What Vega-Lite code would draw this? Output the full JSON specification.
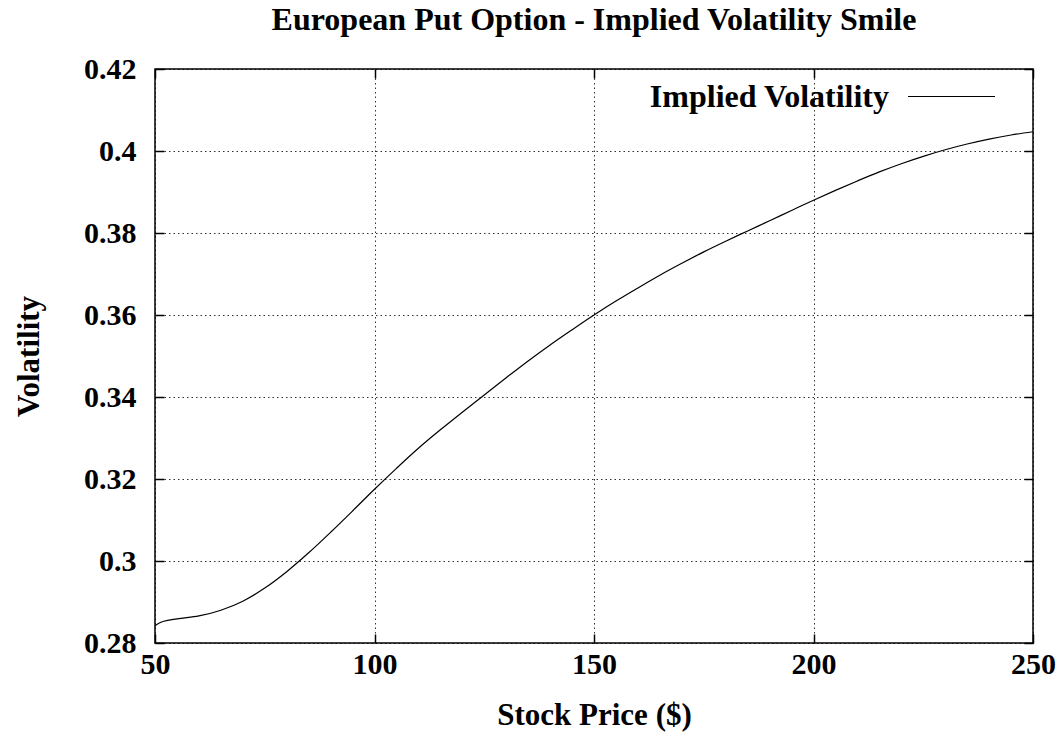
{
  "$schema": "https://vega.github.io/schema/vega-lite/v6.json",
  "autosize": "none",
  "padding": {"left": 155, "top": 69, "right": 30, "bottom": 99},
  "width": 878,
  "height": 574,
  "background": "white",
  "title": {
    "text": "European Put Option - Implied Volatility Smile",
    "font": "Liberation Serif",
    "fontWeight": "bold",
    "fontSize": 32,
    "anchor": "middle",
    "offset": 15,
    "color": "black"
  },
  "config": {
    "view": {"stroke": "black", "strokeWidth": 1.5},
    "axis": {
      "labelFont": "Liberation Serif",
      "labelFontWeight": "bold",
      "labelFontSize": 30,
      "labelColor": "black",
      "labelFlush": false,
      "labelOverlap": false,
      "titleFont": "Liberation Serif",
      "titleFontWeight": "bold",
      "titleFontSize": 31,
      "titleColor": "black",
      "domain": false,
      "tickColor": "black",
      "tickWidth": 1.5,
      "tickSize": -9,
      "gridColor": "black",
      "gridDash": [1.5, 3],
      "gridWidth": 1,
      "gridOpacity": 0.8
    },
    "legend": {
      "labelFont": "Liberation Serif",
      "labelFontWeight": "bold",
      "labelFontSize": 32,
      "labelColor": "black",
      "labelLimit": 500
    }
  },
  "data": {
    "values": [
      {"price": 50, "vol": 0.2842, "series": "Implied Volatility"},
      {"price": 51, "vol": 0.2849, "series": "Implied Volatility"},
      {"price": 52, "vol": 0.2853, "series": "Implied Volatility"},
      {"price": 55, "vol": 0.2859, "series": "Implied Volatility"},
      {"price": 60, "vol": 0.2866, "series": "Implied Volatility"},
      {"price": 65, "vol": 0.2880, "series": "Implied Volatility"},
      {"price": 70, "vol": 0.2902, "series": "Implied Volatility"},
      {"price": 75, "vol": 0.2934, "series": "Implied Volatility"},
      {"price": 80, "vol": 0.2974, "series": "Implied Volatility"},
      {"price": 85, "vol": 0.3020, "series": "Implied Volatility"},
      {"price": 90, "vol": 0.3070, "series": "Implied Volatility"},
      {"price": 95, "vol": 0.3122, "series": "Implied Volatility"},
      {"price": 100, "vol": 0.3175, "series": "Implied Volatility"},
      {"price": 105, "vol": 0.3226, "series": "Implied Volatility"},
      {"price": 110, "vol": 0.3275, "series": "Implied Volatility"},
      {"price": 115, "vol": 0.3320, "series": "Implied Volatility"},
      {"price": 120, "vol": 0.3363, "series": "Implied Volatility"},
      {"price": 125, "vol": 0.3405, "series": "Implied Volatility"},
      {"price": 130, "vol": 0.3447, "series": "Implied Volatility"},
      {"price": 135, "vol": 0.3488, "series": "Implied Volatility"},
      {"price": 140, "vol": 0.3527, "series": "Implied Volatility"},
      {"price": 145, "vol": 0.3564, "series": "Implied Volatility"},
      {"price": 150, "vol": 0.3600, "series": "Implied Volatility"},
      {"price": 155, "vol": 0.3634, "series": "Implied Volatility"},
      {"price": 160, "vol": 0.3666, "series": "Implied Volatility"},
      {"price": 165, "vol": 0.3697, "series": "Implied Volatility"},
      {"price": 170, "vol": 0.3726, "series": "Implied Volatility"},
      {"price": 175, "vol": 0.3754, "series": "Implied Volatility"},
      {"price": 180, "vol": 0.3780, "series": "Implied Volatility"},
      {"price": 185, "vol": 0.3805, "series": "Implied Volatility"},
      {"price": 190, "vol": 0.3830, "series": "Implied Volatility"},
      {"price": 195, "vol": 0.3855, "series": "Implied Volatility"},
      {"price": 200, "vol": 0.3880, "series": "Implied Volatility"},
      {"price": 205, "vol": 0.3904, "series": "Implied Volatility"},
      {"price": 210, "vol": 0.3927, "series": "Implied Volatility"},
      {"price": 215, "vol": 0.3949, "series": "Implied Volatility"},
      {"price": 220, "vol": 0.3969, "series": "Implied Volatility"},
      {"price": 225, "vol": 0.3987, "series": "Implied Volatility"},
      {"price": 230, "vol": 0.4003, "series": "Implied Volatility"},
      {"price": 235, "vol": 0.4017, "series": "Implied Volatility"},
      {"price": 240, "vol": 0.4029, "series": "Implied Volatility"},
      {"price": 245, "vol": 0.4039, "series": "Implied Volatility"},
      {"price": 250, "vol": 0.4047, "series": "Implied Volatility"}
    ]
  },
  "layer": [
    {
      "mark": {"type": "line", "strokeWidth": 1.2, "interpolate": "monotone", "clip": true},
      "encoding": {
        "x": {
          "field": "price",
          "type": "quantitative",
          "scale": {"domain": [50, 250], "nice": false, "zero": false},
          "axis": {
            "title": "Stock Price ($)",
            "values": [50, 100, 150, 200, 250],
            "labelPadding": 15,
            "titlePadding": 21,
            "grid": true
          }
        },
        "y": {
          "field": "vol",
          "type": "quantitative",
          "scale": {"domain": [0.28, 0.42], "nice": false, "zero": false},
          "axis": {
            "title": "Volatility",
            "values": [0.28, 0.3, 0.32, 0.34, 0.36, 0.38, 0.4, 0.42],
            "format": ".2~f",
            "labelPadding": 28,
            "titlePadding": 38,
            "grid": true
          }
        },
        "color": {
          "field": "series",
          "type": "nominal",
          "scale": {"range": ["black"]},
          "legend": {
            "title": null,
            "orient": "none",
            "legendX": 752,
            "legendY": -17,
            "symbolType": "stroke",
            "symbolSize": 7569,
            "symbolStrokeWidth": 1.2,
            "labelAlign": "right",
            "labelOffset": -107,
            "padding": 0
          }
        }
      }
    },
    {
      "mark": {"type": "line", "strokeOpacity": 0},
      "encoding": {
        "x": {
          "field": "price",
          "type": "quantitative",
          "scale": {"domain": [50, 250], "nice": false, "zero": false},
          "axis": {"orient": "top", "title": null, "labels": false, "grid": false, "values": [50, 100, 150, 200, 250]}
        },
        "y": {
          "field": "vol",
          "type": "quantitative",
          "scale": {"domain": [0.28, 0.42], "nice": false, "zero": false},
          "axis": {"orient": "right", "title": null, "labels": false, "grid": false, "values": [0.28, 0.3, 0.32, 0.34, 0.36, 0.38, 0.4, 0.42]}
        }
      }
    }
  ],
  "resolve": {"scale": {"x": "independent", "y": "independent"}, "axis": {"x": "independent", "y": "independent"}}
}
